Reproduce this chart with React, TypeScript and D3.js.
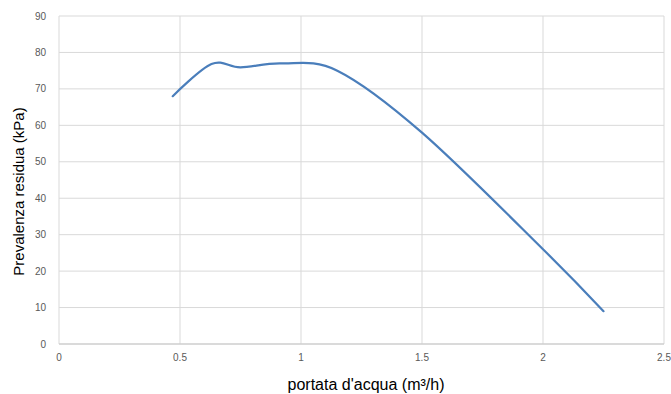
import React from "react";
import * as d3 from "d3";

const flowValues = [0.47, 0.63, 0.75, 0.92, 1.15, 1.5, 2.0, 2.25];
const headValues = [68, 76.8, 75.9, 77.0, 75.0, 58, 26, 9];
const xTicks = [0, 0.5, 1, 1.5, 2, 2.5];
const yTicks = [0, 10, 20, 30, 40, 50, 60, 70, 80, 90];
const xTitle = "portata d'acqua (m³/h)";
const yTitle = "Prevalenza residua (kPa)";

export default function App() {
  const W = 671, H = 394;
  const left = 59, right = 664, top = 16, bottom = 344;
  const x = d3.scaleLinear().domain([0, 2.5]).range([left, right]);
  const y = d3.scaleLinear().domain([0, 90]).range([bottom, top]);
  const pts = flowValues.map((v, i) => [v, headValues[i]] as [number, number]);
  const line = d3
    .line<[number, number]>()
    .x((d) => x(d[0]))
    .y((d) => y(d[1]))
    .curve(d3.curveCardinal.tension(0));
  const font = "'Liberation Sans', Arial, sans-serif";
  return (
    <svg width={W} height={H} style={{ position: "absolute", left: 0, top: 0, background: "#fff" }}>
      {yTicks.map((t) => (
        <line key={"gy" + t} x1={left} x2={right} y1={y(t)} y2={y(t)} stroke="#d9d9d9" strokeWidth={1} />
      ))}
      {xTicks.map((t) => (
        <line key={"gx" + t} x1={x(t)} x2={x(t)} y1={top} y2={bottom} stroke="#d9d9d9" strokeWidth={1} />
      ))}
      <line x1={left} x2={right} y1={bottom} y2={bottom} stroke="#c8c8c8" strokeWidth={1} />
      {yTicks.map((t) => (
        <text key={"ty" + t} x={46} y={y(t)} dy="0.35em" textAnchor="end" fontFamily={font} fontSize={10} fill="#595959">
          {t}
        </text>
      ))}
      {xTicks.map((t) => (
        <text key={"tx" + t} x={x(t)} y={361} textAnchor="middle" fontFamily={font} fontSize={10} fill="#595959">
          {t}
        </text>
      ))}
      <path d={line(pts) || ""} fill="none" stroke="#4a7ebb" strokeWidth={2.2} strokeLinecap="round" />
      <text x={366} y={390} textAnchor="middle" fontFamily={font} fontSize={16} fill="#000">
        {xTitle}
      </text>
      <text
        transform={`translate(24,191.5) rotate(-90)`}
        textAnchor="middle"
        fontFamily={font}
        fontSize={15}
        fill="#000"
      >
        {yTitle}
      </text>
    </svg>
  );
}
